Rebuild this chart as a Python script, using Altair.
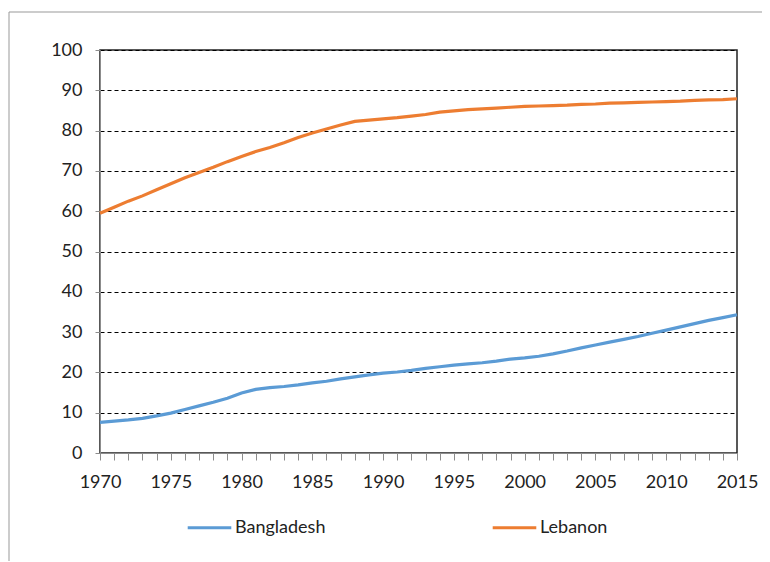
import altair as alt
import pandas as pd

years = list(range(1970, 2016))

bangladesh = [7.6, 7.9, 8.2, 8.6, 9.2, 9.9, 10.8, 11.7, 12.6, 13.6,
              14.9, 15.8, 16.2, 16.5, 16.9, 17.4, 17.8, 18.4, 18.9, 19.4,
              19.8, 20.1, 20.5, 21.0, 21.4, 21.8, 22.1, 22.4, 22.8, 23.3,
              23.6, 24.0, 24.6, 25.3, 26.1, 26.8, 27.5, 28.2, 28.9, 29.7,
              30.5, 31.3, 32.1, 32.9, 33.6, 34.3]

lebanon = [59.5, 61.0, 62.5, 63.8, 65.3, 66.8, 68.3, 69.6, 70.9, 72.3,
           73.6, 74.8, 75.8, 77.0, 78.3, 79.4, 80.4, 81.4, 82.3, 82.6,
           82.9, 83.2, 83.6, 84.0, 84.6, 84.9, 85.2, 85.4, 85.6, 85.8,
           86.0, 86.1, 86.2, 86.3, 86.5, 86.6, 86.8, 86.9, 87.0, 87.1,
           87.2, 87.3, 87.5, 87.6, 87.7, 87.9]

series_names = ["Bangladesh", "Lebanon"]
series_colors = ["#5B9BD5", "#ED7D31"]
y_ticks = list(range(0, 101, 10))

df = pd.DataFrame(
    {"year": years * 2,
     "value": bangladesh + lebanon,
     "country": ["Bangladesh"] * len(years) + ["Lebanon"] * len(years)}
)

FONT = "Lato"

lines = alt.Chart(df).mark_line(strokeWidth=3.2, clip=False).encode(
    x=alt.X("year:Q",
            scale=alt.Scale(domain=[1970, 2015], nice=False, zero=False),
            axis=alt.Axis(values=years, format="d", title=None,
                          labelExpr="datum.value % 5 == 0 ? datum.label : ''",
                          grid=False, tickSize=7, labelPadding=13,
                          labelFontSize=18, labelFont=FONT, labelColor="#222",
                          domainColor="#8c8c8c", tickColor="#8c8c8c",
                          labelFlush=False, labelOverlap=False)),
    y=alt.Y("value:Q",
            scale=alt.Scale(domain=[0, 100], nice=False),
            axis=alt.Axis(values=y_ticks, title=None, grid=True,
                          gridColor="#000", gridDash=[4, 3], gridWidth=1,
                          tickSize=5, labelPadding=13, labelFontSize=18,
                          labelFont=FONT, labelColor="#222",
                          domainColor="#8c8c8c", tickColor="#8c8c8c")),
    color=alt.Color("country:N",
                    scale=alt.Scale(domain=series_names, range=series_colors),
                    legend=alt.Legend(title=None, orient="none",
                                      direction="horizontal",
                                      legendX=86, legendY=454,
                                      symbolType="stroke", symbolSize=1900,
                                      symbolStrokeWidth=3, labelFontSize=18,
                                      labelFont=FONT, labelColor="#222",
                                      labelOffset=2, columnPadding=160)),
)

frame_top = alt.Chart(pd.DataFrame({"k": [0]})).mark_rule(
    color="#999", strokeWidth=1).encode(
    x=alt.value(-91), x2=alt.value(700), y=alt.value(-38))
frame_left = alt.Chart(pd.DataFrame({"k": [0]})).mark_rule(
    color="#999", strokeWidth=1).encode(
    x=alt.value(-91), y=alt.value(-38), y2=alt.value(512))

chart = alt.layer(frame_top, frame_left, lines).properties(
    width=637, height=403,
    padding={"left": 92, "top": 42, "right": 25, "bottom": 108},
    autosize=alt.AutoSizeParams(type="none"),
).configure_view(stroke="#222", strokeWidth=1.5)

chart.save("out.html", embed_options={"renderer": "svg", "actions": False})
